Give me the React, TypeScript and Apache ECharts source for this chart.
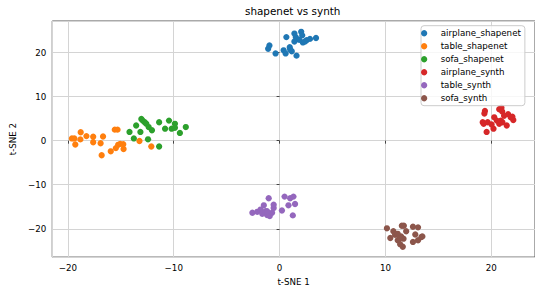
import React, { useEffect, useRef } from "react";
import * as echarts from "echarts";

const seriesNames = [
  "airplane_shapenet",
  "table_shapenet",
  "sofa_shapenet",
  "airplane_synth",
  "table_synth",
  "sofa_synth",
];

const colors = ["#1f77b4", "#ff7f0e", "#2ca02c", "#d62728", "#9467bd", "#8c564b"];

const airplaneShapenet: [number, number][] = [
  [-0.96, 21.6], [-1.08, 20.85], [-0.38, 19.8], [0.38, 20.5], [0.57, 19.8],
  [0.96, 21.2], [1.15, 20.3], [1.6, 19.3], [0.64, 23.5], [1.4, 24.3],
  [1.4, 22.5], [2.04, 24.7], [2.14, 23.9], [2.2, 22.3], [2.55, 22.8],
  [2.87, 23.1], [3.44, 23.3], [1.53, 23.5], [1.85, 22.9], [2.4, 22.5],
  [1.0, 20.7],
];

const tableShapenet: [number, number][] = [
  [-19.62, 0.51], [-19.39, 0.51], [-19.3, -0.88], [-18.79, 1.91], [-18.82, 0.29],
  [-18.25, 1.03], [-17.61, 0.88], [-17.61, -0.37], [-16.91, -0.59], [-16.68, 0.95],
  [-16.81, -3.3], [-15.95, -2.42], [-15.57, 2.5], [-15.31, 2.5], [-15.47, -1.69],
  [-15.25, -0.95], [-15.06, -0.73], [-14.74, -1.91], [-14.77, -0.81], [-13.24, -0.07],
  [-12.12, -1.32],
];

const sofaShapenet: [number, number][] = [
  [-14.18, 1.98], [-13.77, 0.51], [-13.55, 3.45], [-13.15, 1.98], [-13.06, 4.91],
  [-12.93, 4.55], [-12.74, 4.18], [-12.59, 3.82], [-12.37, 3.08], [-12.06, 2.35],
  [-12.43, 0.3], [-11.38, 4.18], [-11.38, -1.32], [-10.82, 2.72], [-10.45, 4.55],
  [-10.2, 2.72], [-9.89, 3.82], [-9.89, 2.94], [-9.42, 1.76], [-8.86, 3.08],
];

const airplaneSynth: [number, number][] = [
  [19.4, 6.76], [19.35, 6.17], [19.19, 4.19], [19.28, 3.82], [19.56, 1.98],
  [19.66, 4.19], [20.21, 2.72], [20.28, 5.29], [20.52, 4.55], [20.75, 7.12],
  [20.96, 7.49], [21.03, 6.61], [20.9, 4.55], [21.05, 4.19], [21.21, 5.65],
  [21.46, 3.45], [21.59, 6.02], [21.83, 5.29], [22.08, 4.7], [21.99, 5.43],
  [20.75, 3.82], [20.03, 3.67],
];

const tableSynth: [number, number][] = [
  [-2.57, -16.37], [-2.11, -16.15], [-1.8, -15.64], [-1.64, -16.59], [-1.33, -16.0],
  [-1.49, -14.68], [-1.03, -13.07], [-1.18, -16.89], [-0.93, -17.11], [-0.71, -16.37],
  [-0.56, -15.27], [-0.56, -14.54], [0.22, -15.86], [0.47, -12.7], [1.0, -13.07],
  [1.31, -12.7], [0.84, -14.68], [1.46, -14.39], [1.25, -16.96], [-1.18, -16.0],
];

const sofaSynth: [number, number][] = [
  [10.14, -19.9], [10.46, -22.1], [10.75, -20.56], [10.91, -21.37], [11.16, -22.61],
  [11.39, -23.49], [11.64, -24.08], [11.55, -19.31], [11.74, -19.31], [11.96, -20.56],
  [11.48, -21.73], [11.71, -22.25], [12.6, -19.53], [13.08, -19.68], [12.82, -21.29],
  [12.6, -22.98], [13.08, -22.61], [13.4, -21.88], [13.49, -21.73], [11.16, -21.15],
  [11.32, -22.25],
];

const allData = [airplaneShapenet, tableShapenet, sofaShapenet, airplaneSynth, tableSynth, sofaSynth];

const xMin = -21.48;
const xMax = 24.13;
const yMin = -26.43;
const yMax = 27.16;

const FONT = "DejaVu Sans";
const minus = (v: number) => String(v).replace("-", "\u2212");

export default function App() {
  const ref = useRef<HTMLDivElement>(null);
  useEffect(() => {
    if (!ref.current) return;
    const chart = echarts.init(ref.current, undefined, { renderer: "svg" });
    chart.setOption({
      animation: false,
      backgroundColor: "#ffffff",
      title: {
        text: "shapenet vs synth",
        left: 245,
        top: 6,
        padding: 0,
        textStyle: { fontFamily: FONT, fontSize: 10.4, fontWeight: "normal", color: "#000" },
      },
      legend: {
        orient: "vertical",
        left: 421,
        top: 25.7,
        padding: [1, 4, 1, 0],
        itemGap: 0,
        itemWidth: 23,
        itemHeight: 6.3,
        icon: "circle",
        backgroundColor: "rgba(255,255,255,0.8)",
        borderColor: "#cccccc",
        borderWidth: 1,
        borderRadius: 3,
        textStyle: { fontFamily: FONT, fontSize: 8.7, color: "#000", lineHeight: 13, padding: [0, 0, 0, 0] },
        data: seriesNames,
      },
      grid: {
        left: 49,
        top: 21,
        width: 489,
        height: 243,
        show: true,
        borderColor: "#555",
        borderWidth: 1,
        containLabel: false,
      },
      xAxis: {
        type: "value",
        min: xMin,
        max: xMax,
        name: "t-SNE 1",
        nameLocation: "middle",
        nameGap: 17,
        nameTextStyle: { fontFamily: FONT, fontSize: 8.7, color: "#000" },
        axisLine: { show: false },
        axisTick: { show: true, length: 3, lineStyle: { color: "#444", width: 1 } },
        axisLabel: {
          fontFamily: FONT,
          fontSize: 8.7,
          color: "#000",
          margin: 6,
          showMinLabel: false,
          showMaxLabel: false,
          formatter: minus,
        },
        splitLine: { show: true, lineStyle: { color: "#d4d4d4", width: 1 } },
      },
      yAxis: {
        type: "value",
        min: yMin,
        max: yMax,
        name: "t-SNE 2",
        nameLocation: "middle",
        nameGap: 28,
        nameTextStyle: { fontFamily: FONT, fontSize: 8.7, color: "#000" },
        axisLine: { show: false },
        axisTick: { show: true, length: 3, lineStyle: { color: "#444", width: 1 } },
        axisLabel: {
          fontFamily: FONT,
          fontSize: 8.7,
          color: "#000",
          margin: 6,
          showMinLabel: false,
          showMaxLabel: false,
          formatter: minus,
        },
        splitLine: { show: true, lineStyle: { color: "#d4d4d4", width: 1 } },
      },
      series: seriesNames.map((name, i) => ({
        name,
        type: "scatter",
        data: allData[i],
        symbol: "circle",
        symbolSize: 6.3,
        itemStyle: { color: colors[i], opacity: 1 },
        emphasis: { disabled: true },
      })),
    });
    return () => chart.dispose();
  }, []);
  return (
    <div
      ref={ref}
      style={{ position: "absolute", left: 0, top: 0, width: 535, height: 291 }}
    />
  );
}
